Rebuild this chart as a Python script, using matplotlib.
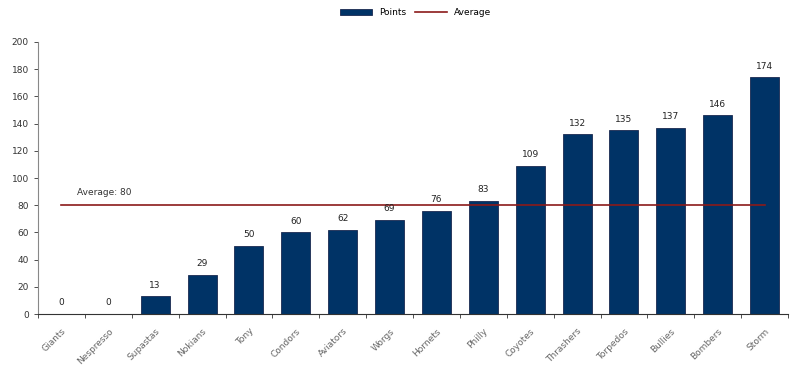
import numpy as np
import matplotlib
matplotlib.use("Agg")
import matplotlib.pyplot as plt

teams = ["Giants", "Nespresso", "Supastas", "Nokians", "Tony", "Condors", "Aviators", "Worgs",
         "Hornets", "Philly", "Coyotes", "Thrashers", "Torpedos", "Bullies", "Bombers", "Storm"]
points = [0, 0, 13, 29, 50, 60, 62, 69, 76, 83, 109, 132, 135, 137, 146, 174]
average = 80

plt.rcParams["font.family"] = "DejaVu Sans"

fig = plt.figure(figsize=(8, 3.78), dpi=100)
ax = fig.add_axes([0.0475, 0.169, 0.9375, 0.72])

x = np.arange(len(teams))
bars = ax.bar(x, points, width=0.62, color="#003366", edgecolor="#1a2a50", linewidth=0.6,
              label="Points", zorder=2)
avg_line, = ax.plot([x[0], x[-1]], [average, average], color="#8b1a1a", linewidth=1.2,
                    label="Average", zorder=3)

# value labels above each bar
for xi, v in zip(x, points):
    ax.text(xi, v + 5, str(v), ha="center", va="bottom", fontsize=6.5, color="#222222")

ax.text(x[0] + 0.33, average + 6, "Average: %d" % average, ha="left", va="bottom",
        fontsize=6.5, color="#333333")

ax.set_xlim(-0.5, len(teams) - 0.5)
ax.set_ylim(0, 200)
ax.set_yticks(range(0, 201, 20))
ax.tick_params(axis="y", labelsize=6.5, length=3, colors="#333333", width=0.6)

ax.set_xticks(x)
ax.set_xticklabels(teams, rotation=45, ha="right", rotation_mode="anchor",
                   fontsize=6.5, color="#666666")
ax.tick_params(axis="x", length=0, pad=9)
ax.set_xticks(np.arange(-0.5, len(teams), 1.0), minor=True)
ax.tick_params(axis="x", which="minor", length=3, width=0.6, color="#333333")

for s in ["top", "right"]:
    ax.spines[s].set_visible(False)
ax.spines["left"].set_color("#888888")
ax.spines["bottom"].set_color("#333333")
ax.spines["left"].set_linewidth(0.8)
ax.spines["bottom"].set_linewidth(0.8)

fig.legend([bars, avg_line], ["Points", "Average"], loc="upper center",
           bbox_to_anchor=(0.52, 1.0), ncol=2, frameon=False,
           fontsize=6.5, handlelength=3.5, handleheight=0.6, columnspacing=1.0)

fig.savefig("out.png", dpi=100)
